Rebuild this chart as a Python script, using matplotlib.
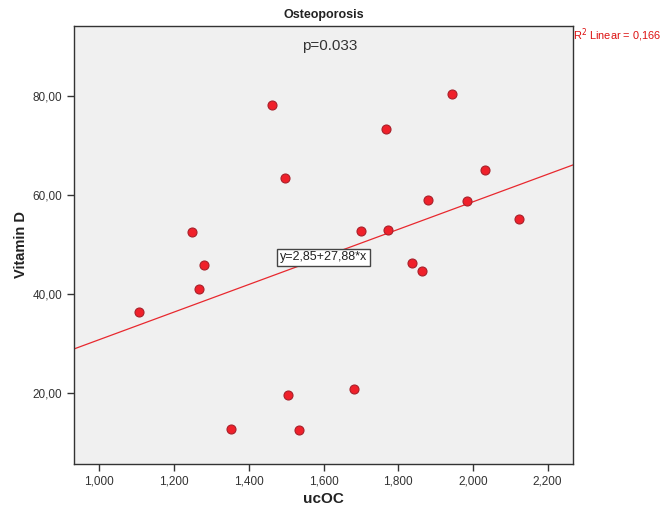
import matplotlib
matplotlib.use("Agg")
import matplotlib.pyplot as plt
import numpy as np

plt.rcParams["font.family"] = ["Liberation Sans", "DejaVu Sans"]

# data
ucoc = [1.105, 1.247, 1.268, 1.281, 1.353, 1.462, 1.497, 1.505, 1.535, 1.681,
        1.700, 1.767, 1.772, 1.838, 1.865, 1.881, 1.944, 1.983, 2.032, 2.123]
vitd = [36.4, 52.6, 40.9, 45.8, 12.7, 78.2, 63.4, 19.6, 12.5, 20.8,
        52.7, 73.4, 52.9, 46.3, 44.6, 58.9, 80.5, 58.7, 65.0, 55.2]
intercept, slope = 2.85, 27.88
xticks = [1.0, 1.2, 1.4, 1.6, 1.8, 2.0, 2.2]
yticks = [20, 40, 60, 80]

C_BG = "#f0f0f0"; C_RED = "#e8282e"; C_TXT = "#333333"

fig = plt.figure(figsize=(6.65, 5.12), dpi=100)
ax = fig.add_axes([74/665, 1-464/512, 499/665, 438/512])
ax.set_facecolor(C_BG)
ax.set_xlim(0.932, 2.268)
ax.set_ylim(5.55, 94.2)

xs = np.array(ax.get_xlim())
ax.plot(xs, intercept + slope*xs, color=C_RED, lw=0.9, zorder=2)
ax.scatter(ucoc, vitd, s=42, color="#f0202a", edgecolor="#a8202a", lw=0.8, zorder=3)

ax.set_xticks(xticks)
ax.set_xticklabels([f"{v:.3f}".replace(".", ",") for v in xticks])
ax.set_yticks(yticks)
ax.set_yticklabels([f"{v:.2f}".replace(".", ",") for v in yticks])
ax.tick_params(direction="out", length=5, width=1, colors=C_TXT, labelsize=8.5)
for s in ax.spines.values():
    s.set_color("#333333"); s.set_linewidth(1)

ax.set_xlabel("ucOC", fontsize=11, fontweight="bold", color="#222222", labelpad=3)
ax.set_ylabel("Vitamin D", fontsize=10.5, fontweight="bold", color="#222222", labelpad=3)
ax.set_title("Osteoporosis", fontsize=9, fontweight="bold", color="#222222", pad=6)

ax.text(0.513, 0.955, "p=0.033", transform=ax.transAxes, ha="center", va="center",
        fontsize=11, color=C_TXT)
ax.text(1.600, 47.4, "y=2,85+27,88*x", ha="center", va="center", fontsize=9, color="#222222",
        bbox=dict(boxstyle="square,pad=0.2", fc="white", ec="#444444", lw=1), zorder=4)
fig.text(573/665, 1-35/512, "R$^2$ Linear = 0,166", ha="left", va="center",
         fontsize=7.9, color="#dd1111")

fig.savefig("out.png", dpi=100, facecolor="white")
